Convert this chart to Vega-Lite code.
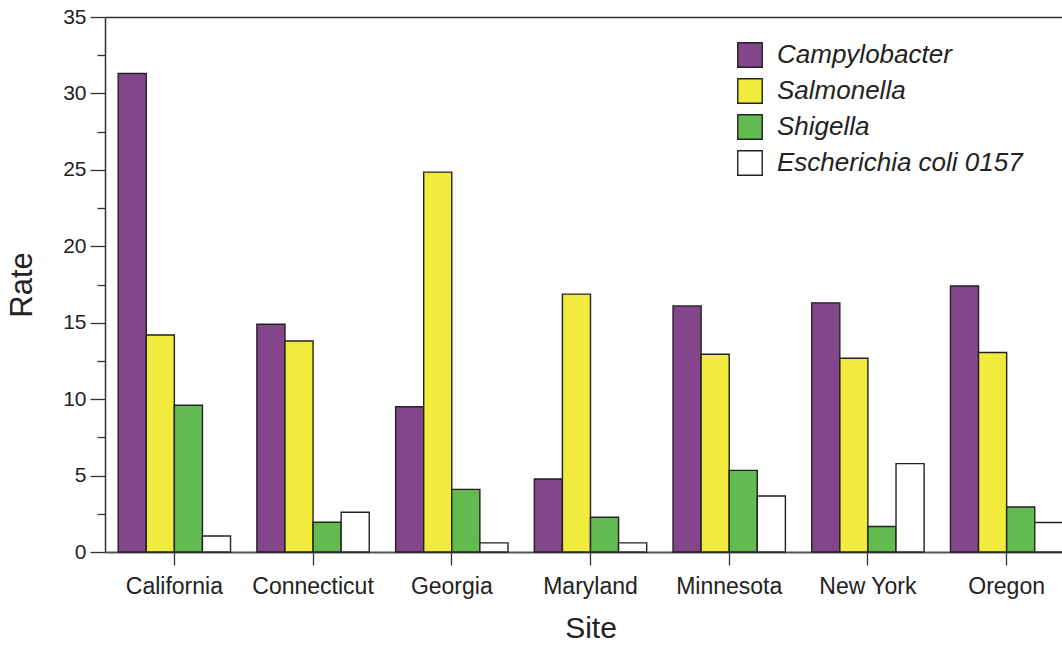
{
  "$schema": "https://vega.github.io/schema/vega-lite/v6.json",
  "width": 957,
  "height": 535,
  "autosize": {"type": "none"},
  "padding": {"left": 105, "top": 17, "right": 0, "bottom": 93},
  "config": {"view": {"stroke": null}, "font": "Liberation Sans"},
  "data": {
    "values": [
      {"Site": "California", "Pathogen": "Campylobacter", "Rate": 31.3},
      {"Site": "California", "Pathogen": "Salmonella", "Rate": 14.2},
      {"Site": "California", "Pathogen": "Shigella", "Rate": 9.6},
      {"Site": "California", "Pathogen": "Escherichia coli 0157", "Rate": 1.05},
      {"Site": "Connecticut", "Pathogen": "Campylobacter", "Rate": 14.9},
      {"Site": "Connecticut", "Pathogen": "Salmonella", "Rate": 13.8},
      {"Site": "Connecticut", "Pathogen": "Shigella", "Rate": 1.95},
      {"Site": "Connecticut", "Pathogen": "Escherichia coli 0157", "Rate": 2.6},
      {"Site": "Georgia", "Pathogen": "Campylobacter", "Rate": 9.5},
      {"Site": "Georgia", "Pathogen": "Salmonella", "Rate": 24.85},
      {"Site": "Georgia", "Pathogen": "Shigella", "Rate": 4.1},
      {"Site": "Georgia", "Pathogen": "Escherichia coli 0157", "Rate": 0.6},
      {"Site": "Maryland", "Pathogen": "Campylobacter", "Rate": 4.78},
      {"Site": "Maryland", "Pathogen": "Salmonella", "Rate": 16.87},
      {"Site": "Maryland", "Pathogen": "Shigella", "Rate": 2.27},
      {"Site": "Maryland", "Pathogen": "Escherichia coli 0157", "Rate": 0.6},
      {"Site": "Minnesota", "Pathogen": "Campylobacter", "Rate": 16.1},
      {"Site": "Minnesota", "Pathogen": "Salmonella", "Rate": 12.94},
      {"Site": "Minnesota", "Pathogen": "Shigella", "Rate": 5.34},
      {"Site": "Minnesota", "Pathogen": "Escherichia coli 0157", "Rate": 3.66},
      {"Site": "New York", "Pathogen": "Campylobacter", "Rate": 16.3},
      {"Site": "New York", "Pathogen": "Salmonella", "Rate": 12.68},
      {"Site": "New York", "Pathogen": "Shigella", "Rate": 1.67},
      {"Site": "New York", "Pathogen": "Escherichia coli 0157", "Rate": 5.78},
      {"Site": "Oregon", "Pathogen": "Campylobacter", "Rate": 17.4},
      {"Site": "Oregon", "Pathogen": "Salmonella", "Rate": 13.05},
      {"Site": "Oregon", "Pathogen": "Shigella", "Rate": 2.94},
      {"Site": "Oregon", "Pathogen": "Escherichia coli 0157", "Rate": 1.93}
    ]
  },
  "layer": [
    {
      "mark": {"type": "bar", "stroke": "#222222", "strokeWidth": 1.4},
      "encoding": {
        "x": {
          "field": "Site",
          "type": "nominal",
          "sort": ["California", "Connecticut", "Georgia", "Maryland", "Minnesota", "New York", "Oregon"],
          "scale": {"range": [0, 971], "paddingInner": 0.19, "paddingOuter": 0.095},
          "axis": {
            "orient": "bottom",
            "title": "Site",
            "titleFontSize": 30,
            "titleFontWeight": "normal",
            "titleColor": "#222222",
            "titlePadding": 15,
            "labelAngle": 0,
            "labelFontSize": 23,
            "labelColor": "#222222",
            "labelPadding": 10,
            "tickSize": 13,
            "tickColor": "#333333",
            "tickWidth": 1.3,
            "domainColor": "#555555",
            "domainWidth": 2,
            "grid": false
          }
        },
        "xOffset": {
          "field": "Pathogen",
          "type": "nominal",
          "sort": ["Campylobacter", "Salmonella", "Shigella", "Escherichia coli 0157"],
          "scale": {"paddingInner": 0, "paddingOuter": 0}
        },
        "y": {
          "field": "Rate",
          "type": "quantitative",
          "scale": {"domain": [0, 35], "nice": false},
          "axis": {
            "orient": "left",
            "title": "Rate",
            "titleFontSize": 31,
            "titleFontWeight": "normal",
            "titleColor": "#222222",
            "titlePadding": 24,
            "values": [0, 5, 10, 15, 20, 25, 30, 35],
            "labelFontSize": 21,
            "labelColor": "#222222",
            "labelPadding": 4,
            "tickSize": 15,
            "tickColor": "#333333",
            "tickWidth": 1.3,
            "domainColor": "#333333",
            "domainWidth": 1.5,
            "grid": false
          }
        },
        "color": {
          "field": "Pathogen",
          "type": "nominal",
          "sort": ["Campylobacter", "Salmonella", "Shigella", "Escherichia coli 0157"],
          "scale": {
            "domain": ["Campylobacter", "Salmonella", "Shigella", "Escherichia coli 0157"],
            "range": ["#83468A", "#F0EB3C", "#63BA51", "#FFFFFF"]
          },
          "legend": {
            "orient": "none",
            "legendX": 632,
            "legendY": 25,
            "title": null,
            "padding": 0,
            "symbolType": "square",
            "symbolSize": 600,
            "symbolStrokeColor": "#222222",
            "symbolStrokeWidth": 1.4,
            "symbolOpacity": 1,
            "labelFontSize": 26,
            "labelFontStyle": "italic",
            "labelColor": "#222222",
            "labelOffset": 14,
            "rowPadding": 4,
            "labelLimit": 400
          }
        }
      }
    },
    {
      "mark": {"type": "bar", "opacity": 0},
      "encoding": {
        "x": {
          "field": "Site",
          "type": "nominal",
          "sort": ["California", "Connecticut", "Georgia", "Maryland", "Minnesota", "New York", "Oregon"],
          "axis": {
            "orient": "top",
            "title": null,
            "labels": false,
            "ticks": false,
            "domainColor": "#333333",
            "domainWidth": 1.3,
            "grid": false
          }
        },
        "y": {
          "field": "Rate",
          "type": "quantitative",
          "axis": {
            "orient": "left",
            "title": null,
            "labels": false,
            "domain": false,
            "values": [2.5, 7.5, 12.5, 17.5, 22.5, 27.5, 32.5],
            "tickSize": 8,
            "tickColor": "#333333",
            "tickWidth": 1.3,
            "grid": false
          }
        }
      }
    }
  ],
  "resolve": {"axis": {"x": "independent", "y": "independent"}}
}
